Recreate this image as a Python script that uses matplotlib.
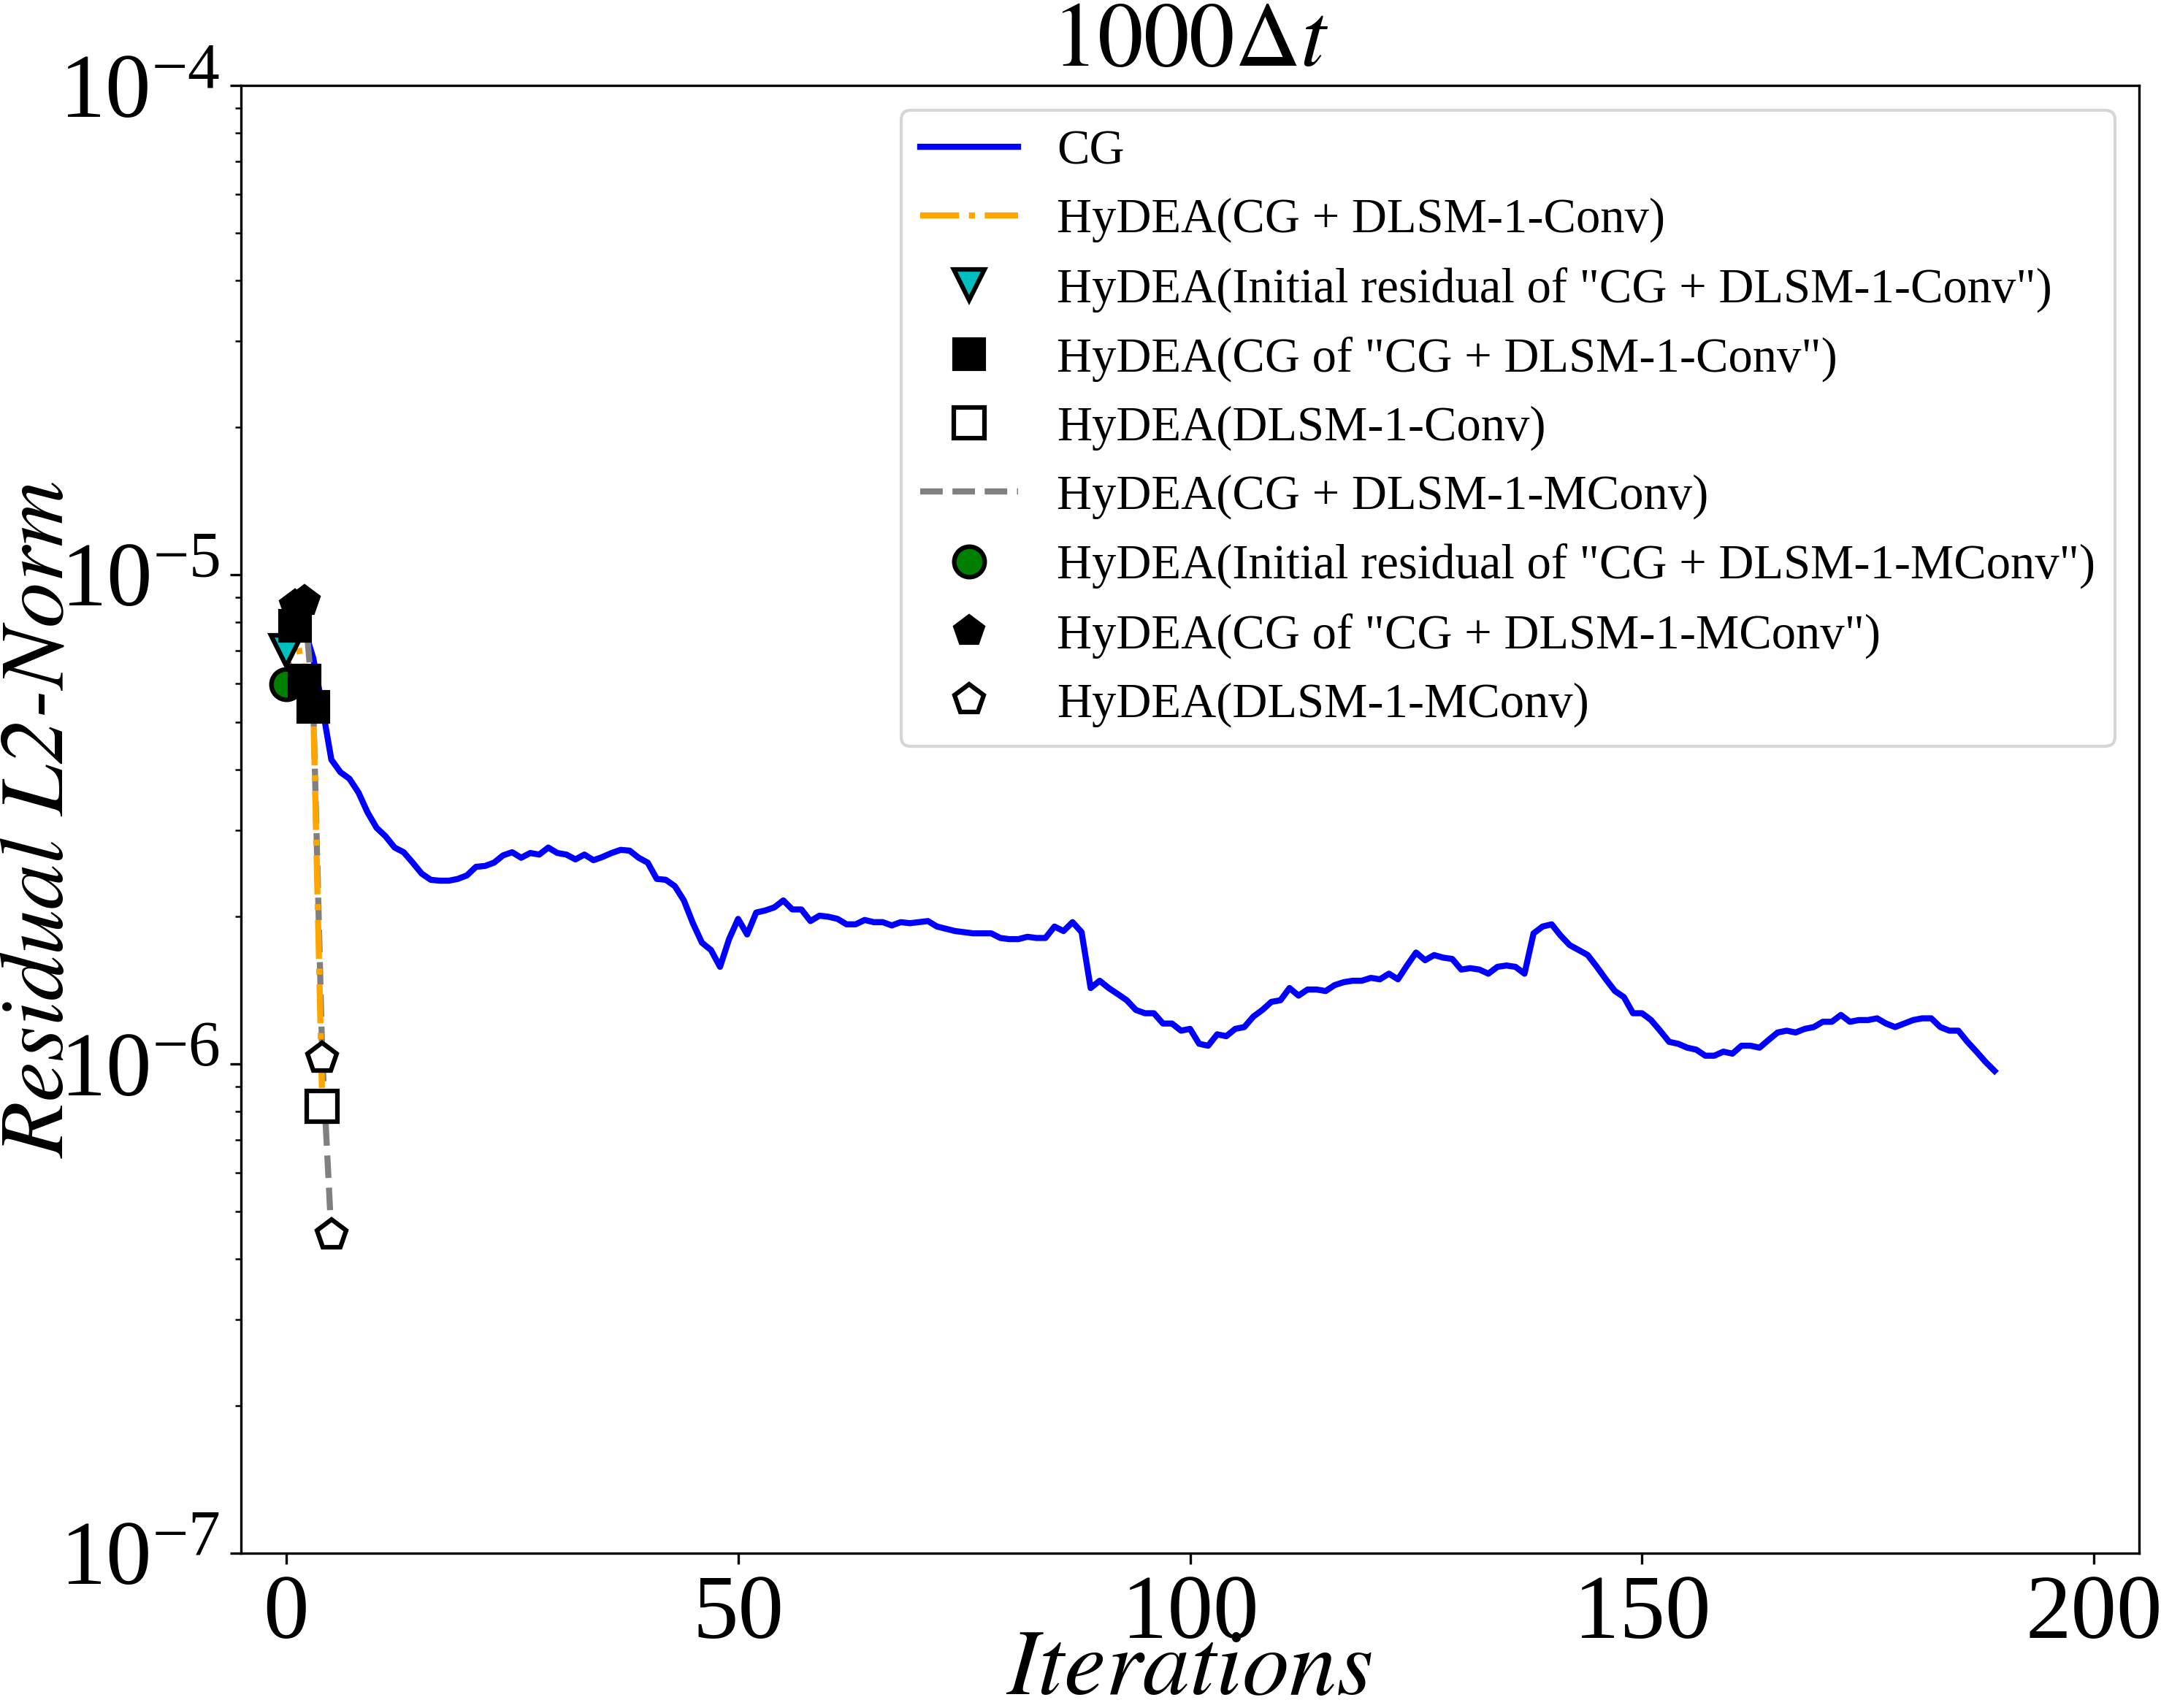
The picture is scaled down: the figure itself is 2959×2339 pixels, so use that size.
import numpy as np
import matplotlib
matplotlib.use("Agg")
import matplotlib.pyplot as plt

plt.rcParams['font.family'] = ['Liberation Serif', 'DejaVu Serif']
plt.rcParams['mathtext.fontset'] = 'stix'

# residual of plain CG, one value per iteration (x 1e-6)
cg_res = np.array([
    7.00, 8.51, 7.76, 6.76, 5.37, 4.19, 3.95, 3.83, 3.59, 3.27,
    3.04, 2.92, 2.77, 2.71, 2.58, 2.45, 2.38, 2.37, 2.37, 2.39,
    2.43, 2.53, 2.54, 2.58, 2.67, 2.71, 2.64, 2.70, 2.68, 2.77,
    2.70, 2.68, 2.62, 2.68, 2.61, 2.65, 2.70, 2.74, 2.73, 2.64,
    2.58, 2.39, 2.38, 2.31, 2.16, 1.94, 1.77, 1.71, 1.58, 1.80,
    1.98, 1.84, 2.04, 2.06, 2.09, 2.16, 2.07, 2.07, 1.96, 2.01,
    2.00, 1.98, 1.93, 1.93, 1.97, 1.95, 1.95, 1.92, 1.95, 1.94,
    1.95, 1.96, 1.91, 1.89, 1.87, 1.86, 1.85, 1.85, 1.85, 1.81,
    1.80, 1.80, 1.82, 1.81, 1.81, 1.91, 1.87, 1.95, 1.86, 1.43,
    1.48, 1.43, 1.39, 1.35, 1.29, 1.27, 1.27, 1.21, 1.21, 1.17,
    1.18, 1.10, 1.09, 1.15, 1.14, 1.18, 1.19, 1.25, 1.29, 1.34,
    1.35, 1.43, 1.38, 1.42, 1.42, 1.41, 1.45, 1.47, 1.48, 1.48,
    1.50, 1.49, 1.53, 1.49, 1.59, 1.69, 1.63, 1.67, 1.65, 1.64,
    1.56, 1.57, 1.56, 1.53, 1.58, 1.59, 1.58, 1.53, 1.85, 1.91,
    1.93, 1.83, 1.75, 1.71, 1.67, 1.58, 1.49, 1.41, 1.37, 1.27,
    1.27, 1.23, 1.17, 1.11, 1.10, 1.08, 1.07, 1.04, 1.04, 1.06,
    1.05, 1.09, 1.09, 1.08, 1.12, 1.16, 1.17, 1.16, 1.18, 1.19,
    1.22, 1.22, 1.26, 1.22, 1.23, 1.23, 1.24, 1.21, 1.19, 1.21,
    1.23, 1.24, 1.24, 1.19, 1.17, 1.17, 1.11, 1.06, 1.01, 0.968,
]) * 1e-6
cg_it = np.arange(len(cg_res))

# HyDEA with DLSM-1-Conv
conv_it = [0, 1, 2, 3, 4]
conv_res = [7.00e-6, 7.86e-6, 6.08e-6, 5.37e-6, 8.2e-7]
conv_init = 1      # first point is the initial residual
conv_cg = 3        # then CG iterations
# remaining points are DLSM steps

# HyDEA with DLSM-1-MConv
mconv_it = [0, 1, 2, 3, 4, 5]
mconv_res = [5.97e-6, 8.66e-6, 8.85e-6, 5.40e-6, 1.03e-6, 4.48e-7]
mconv_init = 1
mconv_cg = 3

fig = plt.figure(figsize=(2959 / 300, 2339 / 300), dpi=300)
ax = fig.add_axes([0.1115, 0.0906, 0.8784, 0.8593])

h_cg, = ax.plot(cg_it, cg_res, color='b', lw=2, label='CG', zorder=2)

# MConv drawn first so the Conv markers sit on top
h_ml, = ax.plot(mconv_it, mconv_res, '--', color='gray', lw=2,
                label='HyDEA(CG + DLSM-1-MConv)', zorder=3)
a, b = mconv_init, mconv_init + mconv_cg
h_mi, = ax.plot(mconv_it[:a], mconv_res[:a], 'o', color='g', mec='k', mew=1.5, ms=10, ls='none',
                label='HyDEA(Initial residual of "CG + DLSM-1-MConv")', zorder=4)
h_mc, = ax.plot(mconv_it[a:b], mconv_res[a:b], 'p', color='k', mec='k', ms=10, ls='none',
                label='HyDEA(CG of "CG + DLSM-1-MConv")', zorder=4)
h_md, = ax.plot(mconv_it[b:], mconv_res[b:], 'p', mfc='w', mec='k', mew=1.5, ms=10, ls='none',
                label='HyDEA(DLSM-1-MConv)', zorder=4)

h_cl, = ax.plot(conv_it, conv_res, '-.', color='orange', lw=2,
                label='HyDEA(CG + DLSM-1-Conv)', zorder=3)
a, b = conv_init, conv_init + conv_cg
h_ci, = ax.plot(conv_it[:a], conv_res[:a], 'v', color='c', mec='k', mew=1.5, ms=10, ls='none',
                label='HyDEA(Initial residual of "CG + DLSM-1-Conv")', zorder=5)
h_cc, = ax.plot(conv_it[a:b], conv_res[a:b], 's', color='k', mec='k', ms=10, ls='none',
                label='HyDEA(CG of "CG + DLSM-1-Conv")', zorder=5)
h_cd, = ax.plot(conv_it[b:], conv_res[b:], 's', mfc='w', mec='k', mew=1.5, ms=10, ls='none',
                label='HyDEA(DLSM-1-Conv)', zorder=5)

ax.set_yscale('log')
ax.set_ylim(1e-7, 1e-4)
ax.set_xlim(-5, 205)
ax.set_xticks([0, 50, 100, 150, 200])
ax.tick_params(axis='both', which='major', labelsize=30)

ax.set_title(r'$1000\Delta t$', fontsize=30)
# italic Times-like face for the axis labels
ax.set_xlabel('Iterations', fontsize=31, family='STIXGeneral', style='italic')
ax.set_ylabel('Residual L2-Norm', fontsize=30, family='STIXGeneral', style='italic')
ax.xaxis.set_label_coords(0.5, -0.052)
ax.yaxis.set_label_coords(-0.083, 0.5)

handles = [h_cg, h_cl, h_ci, h_cc, h_cd, h_ml, h_mi, h_mc, h_md]
ax.legend(handles=handles, loc='upper right', fontsize=16, labelspacing=0.49)

plt.savefig('out.png', dpi=300)
